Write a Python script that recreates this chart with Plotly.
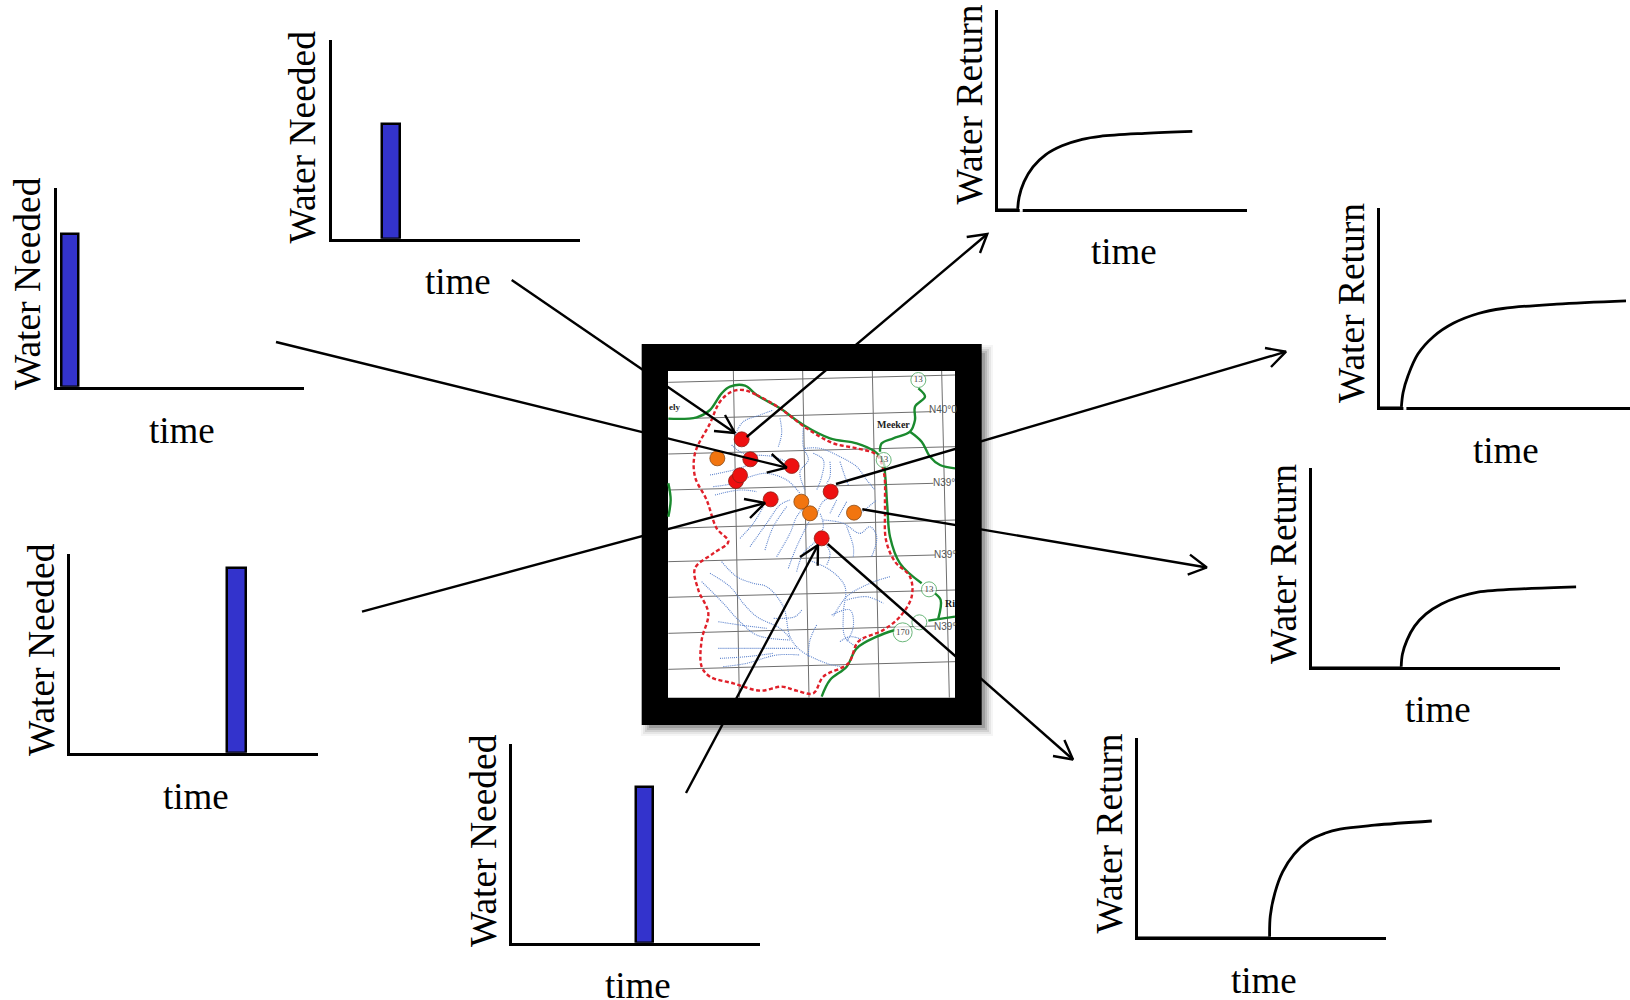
import plotly.graph_objects as go

# ---------- page frame of the figure ----------
PAGE_W, PAGE_H = 1630, 1000
SERIF = "Liberation Serif"

# ---------- demand panels: time and height of the single bar ----------
needed_names = ["north", "west", "southwest", "south"]
needed_time = [59, 13.2, 166.5, 132]
needed_width = [18.5, 17, 18.5, 17]
needed_value = [114.8, 152.8, 184.8, 155.8]

# ---------- return panels: response curves ----------
ret_e_t = [20.2, 21.6, 26.5, 35.5, 48, 64.5, 84.7, 102.6, 147.4, 194.8]
ret_e_v = [0, 11.7, 27, 42, 54, 63, 69.5, 72.5, 75.5, 77.5]
ret_f_t = [21.4, 23.1, 28, 37.9, 53.6, 73.7, 98.3, 123, 176.7, 246]
ret_f_v = [0, 14.3, 31, 52.7, 70.3, 83.7, 93.3, 98.3, 102.7, 106]
ret_g_t = [89.7, 90.9, 95.5, 103.1, 114.6, 129.9, 147.1, 166.3, 216, 264.6]
ret_g_v = [0, 12.6, 26.7, 40.7, 53, 62.8, 69.8, 74.7, 78.2, 80]
ret_h_t = [131.6, 132.3, 136.9, 144.6, 156, 171.4, 186.7, 202, 236.4, 293.8]
ret_h_v = [0, 21, 43.9, 64.9, 82.5, 96.5, 103.5, 107.7, 111.6, 115.8]

# panel boxes: x origin, right end, y origin, top
boxes = {
    "north": (332, 580, 238.8, 40), "west": (56.5, 303.5, 386.8, 188),
    "southwest": (70, 318, 752.8, 554), "south": (512, 760, 942.8, 744),
    "e": (997.5, 1247, 208.8, 10), "f": (1380, 1630, 406.8, 208),
    "g": (1311.5, 1560, 666.8, 468), "h": (1138, 1386, 936.8, 738),
}
# label centres
ylabels = [("Water Needed", 301.5, 137), ("Water Needed", 27, 284), ("Water Needed", 41, 650),
           ("Water Needed", 483, 841), ("Water Return", 968.5, 105), ("Water Return", 1351, 303),
           ("Water Return", 1283, 564), ("Water Return", 1108.5, 834)]
time_labels = [(458, 281), (182, 430), (196, 796), (638, 985), (1124, 251), (1506, 450), (1438, 709), (1264, 980)]

# ---------- arrows: start, tip, two barbs (page pixels) ----------
arrows = [
    ((511.7, 280), (735, 433), (725, 415), (714, 431)),
    ((276, 342), (786.7, 467.7), (771.7, 454), (766.7, 472.7)),
    ((362, 611.7), (765, 503), (744, 499), (750, 518)),
    ((686, 793), (818, 545), (800, 557), (817.7, 565.7)),
    ((746.7, 437), (987.3, 234), (966.7, 237), (980, 253)),
    ((836, 484), (1286, 351.7), (1265, 348), (1271, 367)),
    ((862.3, 509.3), (1206.8, 567.5), (1190, 554.6), (1187.7, 574.6)),
    ((827.7, 544), (1073, 759.5), (1064.4, 740), (1053, 756)),
]

grid_lines = [
    [(205, 187), (1065, 165)], [(205, 297), (995, 275)], [(205, 402), (1065, 380)],
    [(205, 510), (1000, 490)], [(205, 625), (1065, 600)], [(205, 725), (1005, 705)],
    [(205, 832), (1065, 810)], [(205, 940), (1005, 918)], [(205, 1048), (1065, 1025)],
    [(400, 153), (418, 1133)], [(608, 153), (627, 1133)], [(817, 153), (838, 1133)], [(1025, 153), (1048, 1133)],
]
boundary = [(430, 210), (470, 225), (540, 265), (620, 325), (700, 370), (770, 385), (830, 405), (852, 460),
            (855, 560), (858, 660), (885, 725), (930, 770), (935, 830), (900, 890), (850, 930), (775, 965),
            (745, 1030), (670, 1070), (640, 1120), (590, 1112), (545, 1100), (480, 1112), (400, 1090), (330, 1070),
            (305, 1040), (305, 960), (325, 880), (295, 810), (285, 745), (340, 700), (385, 665), (350, 625),
            (320, 540), (285, 470), (285, 400), (330, 310), (360, 245), (395, 215), (430, 210)]
roads = [
    [(205, 296), (290, 292), (330, 270), (365, 220), (390, 200), (435, 197), (470, 225), (540, 265), (610, 315),
     (690, 355), (770, 370), (825, 395), (850, 425), (855, 460), (862, 560), (870, 650), (900, 730), (965, 790)],
    [(1005, 820), (1022, 840), (1015, 895)],
    [(665, 1130), (690, 1080), (740, 1040), (770, 985), (830, 950), (885, 930)],
    [(985, 902), (1065, 890)],
    [(955, 205), (975, 230), (945, 260), (945, 300), (930, 335), (880, 355), (845, 370), (840, 395)],
    [(930, 335), (965, 365), (990, 410), (1020, 435), (1065, 445)],
    [(205, 490), (212, 540), (205, 590)],
]
rivers = [
    [(405, 345), (430, 305), (480, 285), (520, 270)], [(540, 295), (545, 340), (535, 380)],
    [(610, 325), (610, 380), (625, 420), (600, 455), (615, 510)],
    [(615, 385), (660, 385), (720, 410), (770, 440), (800, 480), (825, 510)],
    [(640, 400), (670, 420), (665, 470), (650, 510)], [(690, 425), (690, 470), (680, 490)],
    [(720, 425), (735, 470), (745, 495)], [(395, 375), (430, 400), (520, 410), (570, 430)],
    [(330, 465), (400, 450), (460, 430)], [(340, 500), (400, 490), (450, 470), (500, 460), (560, 480), (600, 520)],
    [(345, 525), (420, 510), (470, 515)], [(420, 655), (460, 610), (490, 560)],
    [(450, 680), (500, 610), (540, 555), (570, 540)], [(495, 690), (520, 620), (560, 560)],
    [(530, 710), (570, 640), (590, 590), (610, 565)], [(565, 745), (590, 680), (640, 580)],
    [(590, 755), (610, 700), (650, 660), (670, 620), (660, 580)], [(650, 590), (665, 550), (690, 530)],
    [(690, 580), (710, 540)], [(715, 590), (740, 545)], [(770, 590), (830, 540)],
    [(670, 600), (730, 610), (780, 640), (810, 620), (830, 650), (815, 710)], [(740, 620), (760, 680), (760, 710)],
    [(670, 660), (690, 700), (680, 735)],
    [(365, 725), (410, 770), (460, 790), (500, 800), (550, 860), (570, 950), (600, 990), (680, 1030), (725, 1040)],
    [(330, 760), (390, 800), (430, 850), (470, 890), (540, 925), (570, 955)],
    [(305, 785), (370, 850), (415, 900), (470, 945), (570, 960)], [(355, 905), (420, 915), (500, 925)],
    [(355, 985), (450, 985), (520, 985), (590, 985)], [(360, 1015), (440, 1010), (520, 1000)],
    [(370, 1040), (440, 1030), (530, 1005), (600, 1005)], [(650, 915), (630, 960), (625, 1010)],
    [(605, 870), (585, 890), (520, 895)], [(625, 720), (690, 750), (735, 800), (730, 880), (735, 950), (775, 985)],
    [(870, 770), (810, 790), (740, 830), (700, 890)], [(740, 840), (800, 830), (850, 850)],
    [(695, 885), (750, 870), (760, 920), (740, 965)], [(720, 965), (750, 950), (790, 960)],
]
shields = [(955, 180, "13", 15), (851, 420, "13", 15), (987, 808, "13", 15), (958, 907, "", 15), (908, 937, "170", 19)]
map_texts = [("ely", 222, 260, 9, True), ("Meeker", 880, 313, 10, True), ("Ri", 1050, 850, 10, True),
             ("N40°0", 1030, 267, 10, False), ("N39°", 1033, 488, 10, False), ("N39°", 1035, 703, 10, False),
             ("N39°", 1035, 918, 10, False)]
red_sites = [(408, 483), (425, 358), (451, 418), (420, 466), (575, 438), (692, 515), (512, 538), (665, 655)]
orange_sites = [(352, 415), (604, 545), (630, 580), (762, 578)]


def mx(z):
    return 600 + z / 3


def my(z):
    return 320 + z / 3


def zline(points):
    return [mx(p[0]) for p in points], [my(p[1]) for p in points]


fig = go.Figure()
INK = "#000000"
LW = 2.4
AXW = 2.8
shapes = []
# frame shadow, frame, map paper
for grow, alpha in [(9, 0.05), (7, 0.08), (5, 0.12), (3, 0.16), (1, 0.22)]:
    shapes.append(dict(type="rect", x0=650 - grow, y0=354 - grow, x1=984 + grow, y1=727 + grow,
                       fillcolor=f"rgba(60,60,60,{alpha})", line_width=0, layer="below", xref="x", yref="y"))
shapes.append(dict(type="rect", x0=641.7, y0=344, x1=981.7, y1=725, fillcolor="#000", line_width=0, layer="below", xref="x", yref="y"))
shapes.append(dict(type="rect", x0=668, y0=371, x1=955, y1=697.7, fillcolor="#fff", line_width=0, layer="below", xref="x", yref="y"))

for seg in grid_lines:
    x, y = zline(seg)
    fig.add_trace(go.Scatter(x=x, y=y, mode="lines", line=dict(color="#6f6f6f", width=1), hoverinfo="skip", showlegend=False))
for seg in rivers:
    x, y = zline(seg)
    fig.add_trace(go.Scatter(x=x, y=y, mode="lines", line=dict(color="#5b82cc", width=1.1, dash="1px 1px", shape="spline"),
                             hoverinfo="skip", showlegend=False))
for seg in roads:
    x, y = zline(seg)
    fig.add_trace(go.Scatter(x=x, y=y, mode="lines", line=dict(color="#1a8a2e", width=2.4, shape="spline"),
                             hoverinfo="skip", showlegend=False))
x, y = zline(boundary)
fig.add_trace(go.Scatter(x=x, y=y, mode="lines", line=dict(color="#e0202a", width=2.4, dash="4px 2.5px", shape="spline"),
                         hoverinfo="skip", showlegend=False))
fig.add_trace(go.Scatter(x=[mx(s[0]) for s in shields], y=[my(s[1]) for s in shields], mode="markers+text",
                         text=[s[2] for s in shields], textposition="middle center",
                         textfont=dict(family=SERIF, size=9, color="#444"),
                         marker=dict(size=[s[3] for s in shields], color="#fff", line=dict(color="#2f9a45", width=1)),
                         hoverinfo="skip", showlegend=False))
x, y = zline(red_sites)
fig.add_trace(go.Scatter(x=x, y=y, mode="markers", marker=dict(size=15, color="#ee1010", line=dict(color="#8a2015", width=0.8)),
                         hoverinfo="skip", showlegend=False))
x, y = zline(orange_sites)
fig.add_trace(go.Scatter(x=x, y=y, mode="markers", marker=dict(size=15, color="#f2750f", line=dict(color="#8a4a15", width=0.8)),
                         hoverinfo="skip", showlegend=False))
for start, tip, b1, b2 in arrows:
    fig.add_trace(go.Scatter(x=[start[0], tip[0]], y=[start[1], tip[1]], mode="lines", line=dict(color=INK, width=LW),
                             hoverinfo="skip", showlegend=False))
    fig.add_trace(go.Scatter(x=[b1[0], tip[0], b2[0]], y=[b1[1], tip[1], b2[1]], mode="lines",
                             line=dict(color=INK, width=LW), hoverinfo="skip", showlegend=False))

layout_axes = {
    "xaxis": dict(range=[0, PAGE_W], domain=[0, 1], visible=False, fixedrange=True),
    "yaxis": dict(range=[PAGE_H, 0], domain=[0, 1], visible=False, fixedrange=True),
}


def add_panel(index, key):
    x0, x1, y0, top = boxes[key]
    width, height = x1 - x0, y0 - top
    common = dict(showline=True, linecolor=INK, linewidth=AXW, showgrid=False, zeroline=False,
                  showticklabels=False, ticks="", fixedrange=True, layer="below traces")
    layout_axes[f"xaxis{index}"] = dict(range=[0, width], domain=[x0 / PAGE_W, x1 / PAGE_W], anchor=f"y{index}", **common)
    layout_axes[f"yaxis{index}"] = dict(range=[0, height], domain=[1 - y0 / PAGE_H, 1 - top / PAGE_H], anchor=f"x{index}", **common)
    return f"x{index}", f"y{index}"


idx = 2
for name, t, w, v in zip(needed_names, needed_time, needed_width, needed_value):
    xa, ya = add_panel(idx, name)
    fig.add_trace(go.Bar(x=[t], y=[v], width=[w], xaxis=xa, yaxis=ya, marker=dict(color="#3333cc", line=dict(color=INK, width=2.5)),
                         hoverinfo="skip", showlegend=False))
    idx += 1
# return curves run past their panel's axis end, so they go through the page axes, offset by the panel origin;
# each panel keeps the flat zero stretch before the response starts, which also keeps its axes drawn
for key, t, v in [("e", ret_e_t, ret_e_v), ("f", ret_f_t, ret_f_v), ("g", ret_g_t, ret_g_v), ("h", ret_h_t, ret_h_v)]:
    xa, ya = add_panel(idx, key)
    x0, _, y0, _ = boxes[key]
    fig.add_trace(go.Scatter(x=[0, t[0]], y=[0, 0], xaxis=xa, yaxis=ya, mode="lines", line=dict(color=INK, width=1),
                             hoverinfo="skip", showlegend=False))
    fig.add_trace(go.Scatter(x=[x0 + a for a in t], y=[y0 - b for b in v], mode="lines",
                             line=dict(color=INK, width=AXW, shape="spline"), hoverinfo="skip", showlegend=False))
    if key in ("e", "f"):
        shapes.append(dict(type="line", x0=x0 + t[0] + 2, x1=x0 + t[0] + 5, y0=y0 + 1.4, y1=y0 + 1.4, xref="x", yref="y",
                           line=dict(color="#fff", width=3.4), layer="above"))
    idx += 1

annotations = []
for text, x, y in ylabels:
    annotations.append(dict(text=text, x=x, y=y, xref="x", yref="y", textangle=-90, showarrow=False,
                            xanchor="center", yanchor="middle", font=dict(family=SERIF, size=37.5, color=INK)))
for x, y in time_labels:
    annotations.append(dict(text="time", x=x, y=y, xref="x", yref="y", showarrow=False,
                            xanchor="center", yanchor="middle", font=dict(family=SERIF, size=37, color=INK)))
for text, zx, zy, size, bold in map_texts:
    annotations.append(dict(text=f"<b>{text}</b>" if bold else text, x=mx(zx), y=my(zy), xref="x", yref="y", showarrow=False,
                            xanchor="center", yanchor="middle",
                            font=dict(family=SERIF if bold else "Liberation Sans", size=size, color="#222" if bold else "#555")))

fig.update_layout(width=PAGE_W, height=PAGE_H, margin=dict(l=0, r=0, t=0, b=0), paper_bgcolor="#fff", plot_bgcolor="rgba(0,0,0,0)",
                  showlegend=False, shapes=shapes, annotations=annotations, bargap=0, **layout_axes)
fig.write_html("out.html", config=dict(displayModeBar=False), post_script="document.body.style.margin='0';")
